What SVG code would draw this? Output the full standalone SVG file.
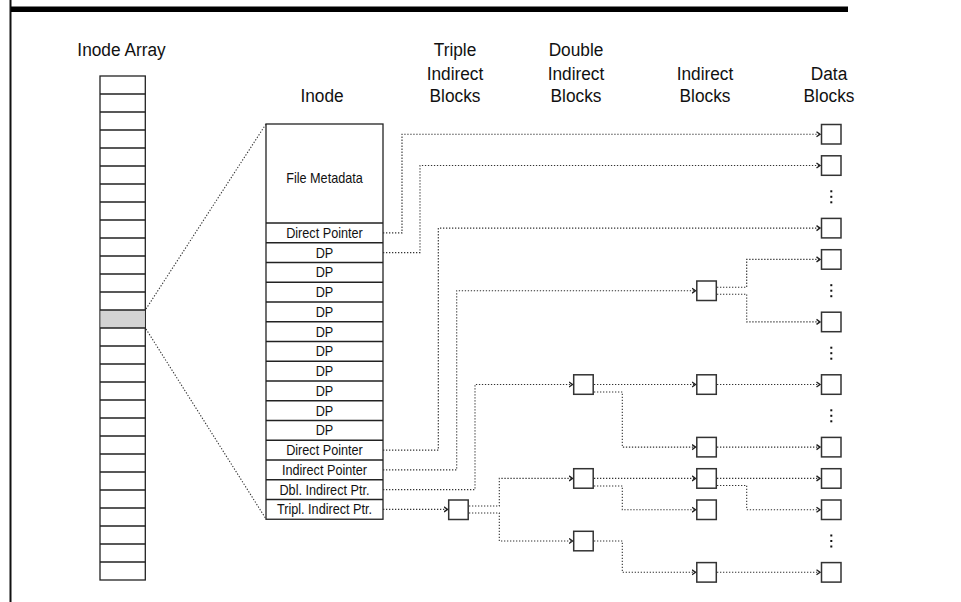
<svg xmlns="http://www.w3.org/2000/svg" width="961" height="602" viewBox="0 0 961 602">
<style>
.hd{font-family:"Liberation Sans",Arial,sans-serif;font-size:18px;fill:#111;text-anchor:middle}
.lb{font-family:"Liberation Sans",Arial,sans-serif;font-size:14.4px;fill:#111;text-anchor:middle}
.cell{fill:#fff;stroke:#222;stroke-width:1.3}
.blk{fill:#fff;stroke:#333;stroke-width:1.5}
.ln{fill:none;stroke:#222;stroke-width:1.3}
.dot{fill:none;stroke:#333;stroke-width:1.1;stroke-dasharray:1.3 1.7}
.arr{marker-end:url(#ah)}
.el{fill:#111}
</style>
<defs>
<marker id="ah" markerUnits="userSpaceOnUse" markerWidth="6" markerHeight="7" refX="4" refY="3.5" orient="auto">
<path d="M0.5,1 L4,3.5 L0.5,6" fill="none" stroke="#222" stroke-width="1.4"/>
</marker>
</defs>

<g id="frame">
<rect x="9.5" y="0" width="2" height="602" fill="#111"/>
<rect x="11" y="6.5" width="837" height="5.5" fill="#000"/>
</g>

<g id="headers">
<g transform="translate(121.5 0) scale(0.96 1)"><text class="hd" x="0" y="56">Inode Array</text></g>
<g transform="translate(322 0) scale(0.96 1)"><text class="hd" x="0" y="102">Inode</text></g>
<g transform="translate(455 0) scale(0.96 1)">
<text class="hd" x="0" y="56">Triple</text>
<text class="hd" x="0" y="80">Indirect</text>
<text class="hd" x="0" y="102">Blocks</text>
</g>
<g transform="translate(576 0) scale(0.96 1)">
<text class="hd" x="0" y="56">Double</text>
<text class="hd" x="0" y="80">Indirect</text>
<text class="hd" x="0" y="102">Blocks</text>
</g>
<g transform="translate(705 0) scale(0.96 1)">
<text class="hd" x="0" y="80">Indirect</text>
<text class="hd" x="0" y="102">Blocks</text>
</g>
<g transform="translate(829 0) scale(0.96 1)">
<text class="hd" x="0" y="80">Data</text>
<text class="hd" x="0" y="102">Blocks</text>
</g>
</g>

<g id="inode-array">
<rect x="100" y="76" width="45.3" height="504" class="cell"/>
<rect x="100.6" y="310" width="44.1" height="18" fill="#d3d3d3"/>
<path class="ln" d="M100,94H145.3M100,112H145.3M100,130H145.3M100,148H145.3M100,166H145.3M100,184H145.3M100,202H145.3M100,220H145.3M100,238H145.3M100,256H145.3M100,274H145.3M100,292H145.3M100,310H145.3M100,328H145.3M100,346H145.3M100,364H145.3M100,382H145.3M100,400H145.3M100,418H145.3M100,436H145.3M100,454H145.3M100,472H145.3M100,490H145.3M100,508H145.3M100,526H145.3M100,544H145.3M100,562H145.3"/>
</g>

<g id="inode">
<rect x="266" y="124" width="117" height="395.25" class="cell"/>
<path class="ln" d="M266,223H383M266,242.75H383M266,262.5H383M266,282.25H383M266,302H383M266,321.75H383M266,341.5H383M266,361.25H383M266,381H383M266,400.75H383M266,420.5H383M266,440.25H383M266,460H383M266,479.75H383M266,499.5H383"/>
<g transform="translate(324.5 0) scale(0.88 1)">
<text class="lb" x="0" y="183">File Metadata</text>
<text class="lb" x="0" y="238">Direct Pointer</text>
<text class="lb" x="0" y="257.8">DP</text>
<text class="lb" x="0" y="277.5">DP</text>
<text class="lb" x="0" y="297.3">DP</text>
<text class="lb" x="0" y="317">DP</text>
<text class="lb" x="0" y="336.8">DP</text>
<text class="lb" x="0" y="356.5">DP</text>
<text class="lb" x="0" y="376.3">DP</text>
<text class="lb" x="0" y="396">DP</text>
<text class="lb" x="0" y="415.8">DP</text>
<text class="lb" x="0" y="435.5">DP</text>
<text class="lb" x="0" y="455.3">Direct Pointer</text>
<text class="lb" x="0" y="475">Indirect Pointer</text>
<text class="lb" x="0" y="494.8">Dbl. Indirect Ptr.</text>
<text class="lb" x="0" y="514.5">Tripl. Indirect Ptr.</text>
</g>
</g>

<g id="triple-indirect-block">
<rect x="448.7" y="500" width="19.5" height="19.5" class="blk"/>
</g>

<g id="double-indirect-blocks">
<rect x="573.7" y="374.8" width="19.5" height="19.5" class="blk"/>
<rect x="573.7" y="468.7" width="19.5" height="19.5" class="blk"/>
<rect x="573.7" y="531.3" width="19.5" height="19.5" class="blk"/>
</g>

<g id="indirect-blocks">
<rect x="696.8" y="281" width="19.5" height="19.5" class="blk"/>
<rect x="696.8" y="374.8" width="19.5" height="19.5" class="blk"/>
<rect x="696.8" y="437.4" width="19.5" height="19.5" class="blk"/>
<rect x="696.8" y="468.7" width="19.5" height="19.5" class="blk"/>
<rect x="696.8" y="500" width="19.5" height="19.5" class="blk"/>
<rect x="696.8" y="562.6" width="19.5" height="19.5" class="blk"/>
</g>

<g id="data-blocks">
<rect x="821.5" y="124.5" width="19.5" height="19.5" class="blk"/>
<rect x="821.5" y="155.8" width="19.5" height="19.5" class="blk"/>
<rect x="821.5" y="218.4" width="19.5" height="19.5" class="blk"/>
<rect x="821.5" y="249.7" width="19.5" height="19.5" class="blk"/>
<rect x="821.5" y="312.2" width="19.5" height="19.5" class="blk"/>
<rect x="821.5" y="374.8" width="19.5" height="19.5" class="blk"/>
<rect x="821.5" y="437.4" width="19.5" height="19.5" class="blk"/>
<rect x="821.5" y="468.7" width="19.5" height="19.5" class="blk"/>
<rect x="821.5" y="500" width="19.5" height="19.5" class="blk"/>
<rect x="821.5" y="562.6" width="19.5" height="19.5" class="blk"/>
</g>

<g id="ellipses">
<rect class="el" x="830.3" y="190.3" width="2" height="2"/><rect class="el" x="830.3" y="195.8" width="2" height="2"/><rect class="el" x="830.3" y="201.3" width="2" height="2"/>
<rect class="el" x="830.3" y="284.2" width="2" height="2"/><rect class="el" x="830.3" y="289.7" width="2" height="2"/><rect class="el" x="830.3" y="295.2" width="2" height="2"/>
<rect class="el" x="830.3" y="346.7" width="2" height="2"/><rect class="el" x="830.3" y="352.2" width="2" height="2"/><rect class="el" x="830.3" y="357.7" width="2" height="2"/>
<rect class="el" x="830.3" y="409.3" width="2" height="2"/><rect class="el" x="830.3" y="414.8" width="2" height="2"/><rect class="el" x="830.3" y="420.3" width="2" height="2"/>
<rect class="el" x="830.3" y="534.5" width="2" height="2"/><rect class="el" x="830.3" y="540" width="2" height="2"/><rect class="el" x="830.3" y="545.5" width="2" height="2"/>
</g>

<g id="connectors">
<path class="dot" d="M146,309 L266,124"/>
<path class="dot" d="M146,329 L266,519"/>
<path class="dot arr" d="M383,232.9H402V134.2H820"/>
<path class="dot arr" d="M383,252.6H420V165.5H820"/>
<path class="dot arr" d="M383,450.1H438.3V228.1H820"/>
<path class="dot arr" d="M383,469.9H456.7V290.7H695.5"/>
<path class="dot arr" d="M717,287.2H746.7V259.4H820"/>
<path class="dot arr" d="M717,294.2H746.7V321.9H820"/>
<path class="dot arr" d="M383,489.6H475V384.5H572.5"/>
<path class="dot arr" d="M594,384.5H695.5"/>
<path class="dot arr" d="M594,392H622.3V447.1H695.5"/>
<path class="dot arr" d="M717,384.5H820"/>
<path class="dot arr" d="M717,447.1H820"/>
<path class="dot arr" d="M383,509.4H447.5"/>
<path class="dot arr" d="M469,506H499.3V478.4H572.5"/>
<path class="dot arr" d="M469,513H499.3V541H572.5"/>
<path class="dot arr" d="M594,478.4H695.5"/>
<path class="dot arr" d="M594,486H622.3V509.7H695.5"/>
<path class="dot arr" d="M594,541H622.3V572.3H695.5"/>
<path class="dot arr" d="M717,478.4H820"/>
<path class="dot arr" d="M717,485.5H746.7V509.7H820"/>
<path class="dot arr" d="M717,572.3H820"/>
</g>
</svg>
